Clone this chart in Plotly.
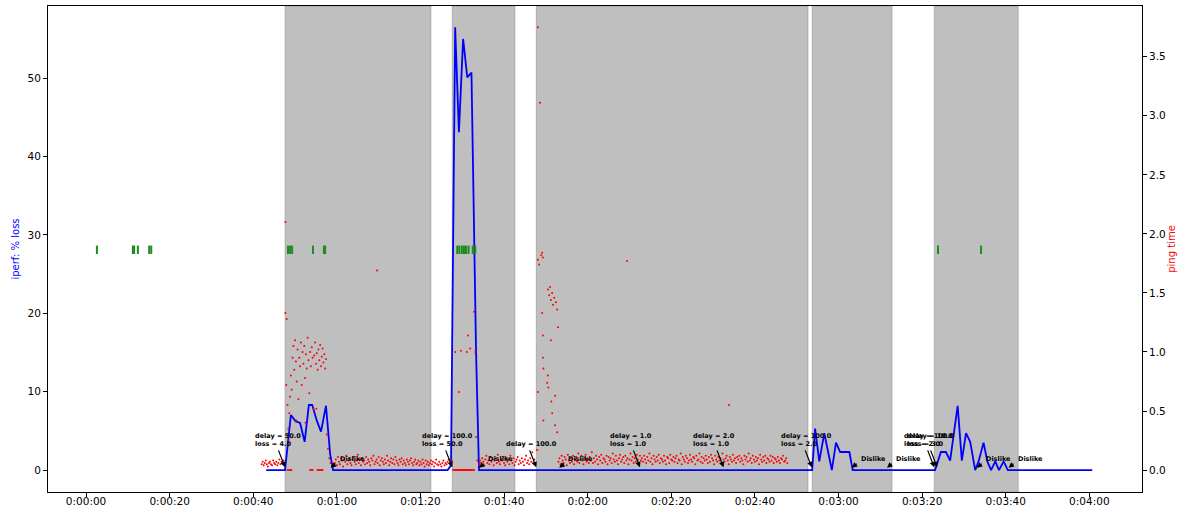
import plotly.graph_objects as go

# ---------------- data ----------------
# x tick labels (seconds -> h:mm:ss)
tick_seconds = [0, 20, 40, 60, 80, 100, 120, 140, 160, 180, 200, 220, 240]
tick_labels = ["0:00:00", "0:00:20", "0:00:40", "0:01:00", "0:01:20", "0:01:40",
               "0:02:00", "0:02:20", "0:02:40", "0:03:00", "0:03:20", "0:03:40", "0:04:00"]

# shaded test periods (start, end) in seconds
span_start = [47.6, 87.6, 107.7, 173.7, 202.9]
span_end = [82.5, 102.6, 172.7, 192.8, 223.0]

# iperf loss (%)
iperf_t = [43.1, 47.6, 49.0, 50.2, 51.2, 52.3, 53.3, 54.1, 55.2, 56.2, 57.4, 58.4, 59.1,
           86.5, 87.3, 88.3, 89.2, 90.2, 91.2, 92.2, 93.3, 94.0,
           173.7, 174.4, 175.4, 176.6, 178.4, 179.4, 180.4, 182.6, 183.4,
           203.1, 204.5, 205.7, 206.7, 208.5, 209.5, 210.5, 211.5, 212.7, 213.5,
           214.7, 215.6, 216.5, 217.5, 218.4, 219.5, 220.5, 240.7]
iperf_loss = [0, 0, 7.0, 6.2, 6.0, 3.6, 8.3, 8.3, 6.3, 4.9, 8.2, 2.0, 0,
              0, 0.6, 56.5, 43.1, 55.0, 50.1, 50.7, 15.0, 0,
              0, 5.3, 1.1, 4.7, 0, 3.5, 2.3, 2.3, 0,
              0, 2.3, 2.3, 1.2, 8.2, 1.2, 4.7, 3.6, 0, 1.1,
              3.5, 1.1, 0, 1.1, 0, 1.1, 0, 0]

# ping time, regular sampling blocks (values in hundredths)
ping_interval = 0.25
block_a_start = 42.0
block_a = [5, 7, 4, 6, 8, 5, 3, 6, 7, 5, 4, 8, 6, 5, 7, 4, 6, 9, 5, 7, 6, 8]
block_b_start = 59.5
block_b = [6, 9, 4, 11, 7, 5, 10, 8, 3, 9,
           7, 12, 5, 8, 10, 6, 4, 9, 11, 7,
           5, 8, 13, 6, 9, 4, 10, 7, 8, 5,
           11, 6, 9, 7, 4, 10, 8, 12, 5, 7,
           9, 6, 11, 4, 8, 10, 7, 5, 9, 6,
           12, 8, 4, 7, 10, 6, 9, 5, 11, 8,
           6, 4, 9, 7, 10, 5, 8, 6, 4, 9,
           7, 5, 8, 10, 6, 4, 7, 9, 5, 6,
           8, 4, 7, 5, 9, 6, 3, 8, 5, 7,
           4, 6, 8, 5, 7, 3, 6, 9, 5, 4,
           7, 5, 3, 6, 8, 4, 6, 5, 7, 9]
block_c_start = 94.0
block_c = [5, 8, 6, 10, 7, 4, 9, 12, 6, 8,
           5, 11, 7, 9, 4, 8, 10, 6, 13, 7,
           5, 9, 8, 11, 6, 4, 10, 7, 9, 5,
           12, 8, 6, 10, 4, 7, 9, 11, 5, 8,
           6, 10, 7, 4, 9, 12, 6, 8, 5, 10,
           7, 15, 6, 9]
block_d_start = 113.0
block_d = [7, 10, 5, 12, 8, 6, 11, 9, 4, 13,
           8, 6, 10, 7, 12, 5, 9, 11, 7, 14,
           6, 9, 12, 8, 5, 10, 13, 7, 9, 6,
           11, 8, 15, 6, 10, 7, 12, 9, 5, 11,
           8, 13, 6, 10, 9, 7, 12, 5, 11, 8,
           10, 6, 14, 9, 7, 12, 8, 5, 10, 13,
           7, 9, 11, 6, 12, 8, 10, 5, 9, 14,
           8, 11, 6, 10, 7, 13, 9, 5, 12, 8,
           10, 7, 12, 9, 6, 11, 8, 14, 7, 10,
           5, 12, 9, 7, 11, 8, 13, 6, 10, 9,
           7, 12, 8, 5, 11, 10, 6, 13, 9, 8,
           11, 7, 10, 12, 6, 9, 8, 14, 5, 11,
           9, 7, 12, 10, 6, 8, 13, 9, 7, 11,
           10, 5, 12, 8, 9, 14, 7, 11, 6, 10,
           8, 12, 9, 6, 11, 7, 13, 10, 8, 5,
           12, 9, 7, 11, 8, 10, 6, 14, 9, 7,
           10, 12, 8, 5, 11, 9, 7, 13, 8, 10,
           6, 11, 9, 12, 7, 10, 8, 5, 12, 9,
           11, 7, 14, 8, 10, 6, 12, 9, 7, 11,
           8, 10, 5, 13, 9, 7, 11, 8, 12, 6,
           10, 9, 7, 12, 8, 11, 6, 10, 9, 7,
           11, 8, 6, 10, 9, 12, 7, 8, 10, 6]

# ping time, irregular samples (seconds, value)
ping_extra_t = [47.7, 48.0, 47.9, 48.2, 48.4, 48.6, 48.8, 49.0, 49.2, 49.4, 49.6, 49.8,
                50.0, 50.2, 50.4, 50.6, 50.8, 51.0, 51.2, 51.4, 51.6, 51.8, 52.0, 52.2,
                52.4, 52.6, 52.8, 53.0, 53.2, 53.4, 53.6, 53.8, 54.0, 54.2, 54.4, 54.6,
                54.8, 55.0, 55.2, 55.4, 55.6, 55.8, 56.0, 56.2, 56.4, 56.6, 56.8, 57.0,
                57.2, 57.4, 57.6, 57.9, 58.2, 58.5, 47.7, 48.4, 50.3, 52.5, 55.1,
                48.2, 48.5, 48.8, 49.1, 53.6, 53.9, 54.2, 55.4, 55.7, 56.0, 56.3, 56.6,
                69.6,
                87.0, 87.3, 87.5,
                87.8, 88.05, 88.3, 88.55, 88.8, 89.05, 89.3, 89.55, 89.8, 90.05, 90.3,
                90.55, 90.8, 91.05, 91.3, 91.55, 91.8, 92.05, 92.3, 92.55, 92.8,
                88.3, 89.2, 89.7, 91.1, 91.4, 91.9, 92.8, 93.1, 93.3, 93.6,
                108.1, 108.6, 108.1, 108.4, 108.9, 109.1, 109.3, 110.5, 110.8, 111.0,
                111.2, 111.5, 111.7, 112.0, 112.4, 112.7, 109.1, 109.3, 111.2, 112.9,
                109.3, 109.4, 110.5, 110.3, 108.1, 110.6, 112.2, 111.3, 111.5, 109.4,
                112.2, 112.7, 107.9,
                129.4, 153.8]
ping_extra_v = [1.33, 1.28, 0.72, 0.55, 0.35, 0.48, 0.62, 0.80, 0.68, 0.95, 1.05, 0.85,
                1.10, 0.92, 0.75, 1.02, 0.60, 0.95, 0.88, 1.08, 0.72, 1.00, 0.90, 1.05,
                0.78, 0.98, 0.86, 1.12, 0.93, 0.65, 1.00, 0.88, 1.04, 0.95, 0.52, 0.97,
                1.08, 0.90, 0.99, 0.85, 1.02, 0.93, 1.06, 0.88, 0.96, 1.03, 0.91, 0.98,
                0.86, 0.94, 0.30, 0.18, 0.10, 0.06, 2.10, 0.25, 0.42, 0.40, 0.52,
                0, 0, 0, 0, 0, 0, 0, 0, 0, 0, 0, 0,
                1.69,
                0.06, 0.05, 0.08,
                0, 0, 0, 0, 0, 0, 0, 0, 0, 0, 0,
                0, 0, 0, 0, 0, 0, 0, 0, 0, 0,
                1.00, 0.66, 1.01, 1.00, 1.14, 1.03, 1.34, 1.00, 0.28, 0.08,
                3.75, 3.11, 1.78, 1.74, 1.82, 1.84, 1.80, 1.53, 1.48, 1.55,
                1.44, 1.50, 1.40, 1.46, 1.42, 1.36, 1.33, 1.14, 1.10, 1.21,
                0.95, 0.86, 0.80, 0.74, 0.66, 0.70, 0.63, 0.58, 0.48, 0.42,
                0.38, 0.32, 0.17,
                1.77, 0.55]

# "dislike" markers
dislike_mark_t = [2.6, 11.2, 11.5, 12.4, 15.1, 15.6, 48.3, 48.8, 49.3, 54.3, 56.9, 57.2,
                  88.8, 89.3, 89.9, 90.4, 90.9, 91.5, 92.5, 93.1, 203.8, 214.1]
dislike_mark_level = 28.1

# annotated events
delay_t = [47.6, 87.6, 107.7, 132.5, 152.5, 173.6, 202.9, 203.6]
delay_text = ["delay = 50.0<br>loss = 4.0", "delay = 100.0<br>loss = 50.0", "delay = 100.0",
              "delay = 1.0<br>loss = 1.0", "delay = 2.0<br>loss = 1.0",
              "delay = 100.0<br>loss = 2.0", "delay = 100.0<br>loss = 2.0",
              "delay = 10.0<br>loss = 3.0"]
dislike_t = [58.5, 94.0, 113.2, 183.2, 191.6, 213.1, 220.7]

# ---------------- figure ----------------
def block_times(start, values):
    return [start + i * ping_interval for i in range(len(values))]

ping_t, ping_v = [], []
for start, vals in [(block_a_start, block_a), (block_b_start, block_b),
                    (block_c_start, block_c), (block_d_start, block_d)]:
    ping_t += block_times(start, vals)
    ping_v += [v / 100 for v in vals]
ping_t += ping_extra_t
ping_v += ping_extra_v

fig = go.Figure()

for s, e in zip(span_start, span_end):
    fig.add_vrect(x0=s, x1=e, fillcolor="rgba(128,128,128,0.5)",
                  line=dict(color="rgba(128,128,128,0.45)", width=1), layer="below")

fig.add_trace(go.Scatter(x=ping_t, y=ping_v, yaxis="y2", mode="markers",
                         marker=dict(color="red", size=2, line=dict(width=0)),
                         showlegend=False))
fig.add_trace(go.Scatter(x=iperf_t, y=iperf_loss, mode="lines",
                         line=dict(color="#0000ff", width=1.8), showlegend=False))
fig.add_trace(go.Scatter(x=dislike_mark_t, y=[dislike_mark_level] * len(dislike_mark_t),
                         mode="markers",
                         marker=dict(symbol="line-ns", size=6,
                                     line=dict(color="#1e8c1e", width=2)),
                         showlegend=False))

ann = []
label_font = dict(family="DejaVu Sans", size=6.5, color="black")
for t, txt in zip(delay_t, delay_text):
    ann.append(dict(x=t - 7.5, y=2.75, xref="x", yref="y", text="<b>" + txt + "</b>",
                    showarrow=False, xanchor="left", yanchor="bottom", align="left",
                    font=label_font, borderpad=0))
    ann.append(dict(x=t, y=0.35, ax=t - 1.7, ay=2.7, xref="x", yref="y",
                    axref="x", ayref="y", text="", showarrow=True, arrowhead=2,
                    arrowsize=0.9, arrowwidth=1.2, arrowcolor="black"))
for t in dislike_t:
    ann.append(dict(x=t + 1.9, y=1.35, xref="x", yref="y", text="<b>Dislike</b>",
                    showarrow=False, xanchor="left", yanchor="middle",
                    font=label_font, borderpad=0))
    ann.append(dict(x=t, y=0.3, ax=t + 1.5, ay=0.95, xref="x", yref="y",
                    axref="x", ayref="y", text="", showarrow=True, arrowhead=2,
                    arrowsize=0.9, arrowwidth=1.2, arrowcolor="black"))

axis_font = dict(family="DejaVu Sans", size=10.5, color="black")
fig.update_layout(
    width=1187, height=508,
    margin=dict(l=48, r=45, t=6, b=16, autoexpand=False),
    paper_bgcolor="white", plot_bgcolor="white",
    font=dict(family="DejaVu Sans"),
    annotations=ann,
    xaxis=dict(range=[-9.1, 252.6], tickvals=tick_seconds, ticktext=tick_labels,
               showgrid=False, zeroline=False, showline=True, mirror=True,
               linecolor="black", linewidth=1, ticks="outside", ticklen=4,
               tickcolor="black", tickfont=axis_font, automargin=False,
               ticklabelstandoff=-5),
    yaxis=dict(range=[-2.8, 59.2], tickvals=[0, 10, 20, 30, 40, 50],
               showgrid=False, zeroline=False, showline=True, mirror=True,
               linecolor="black", linewidth=1, ticks="outside", ticklen=4,
               tickcolor="black", tickfont=axis_font, automargin=False,
               title=dict(text="iperf: % loss", font=dict(family="DejaVu Sans", size=10, color="blue"),
                          standoff=6)),
    yaxis2=dict(range=[-0.186, 3.93], overlaying="y", side="right",
                tickvals=[0, 0.5, 1.0, 1.5, 2.0, 2.5, 3.0, 3.5],
                ticktext=["0.0", "0.5", "1.0", "1.5", "2.0", "2.5", "3.0", "3.5"],
                showgrid=False, zeroline=False, showline=True, linecolor="black",
                linewidth=1, ticks="outside", ticklen=4, tickcolor="black",
                tickfont=axis_font, automargin=False,
                title=dict(text="ping time", font=dict(family="DejaVu Sans", size=10, color="red"),
                           standoff=3)),
)

fig.write_html("out.html")
